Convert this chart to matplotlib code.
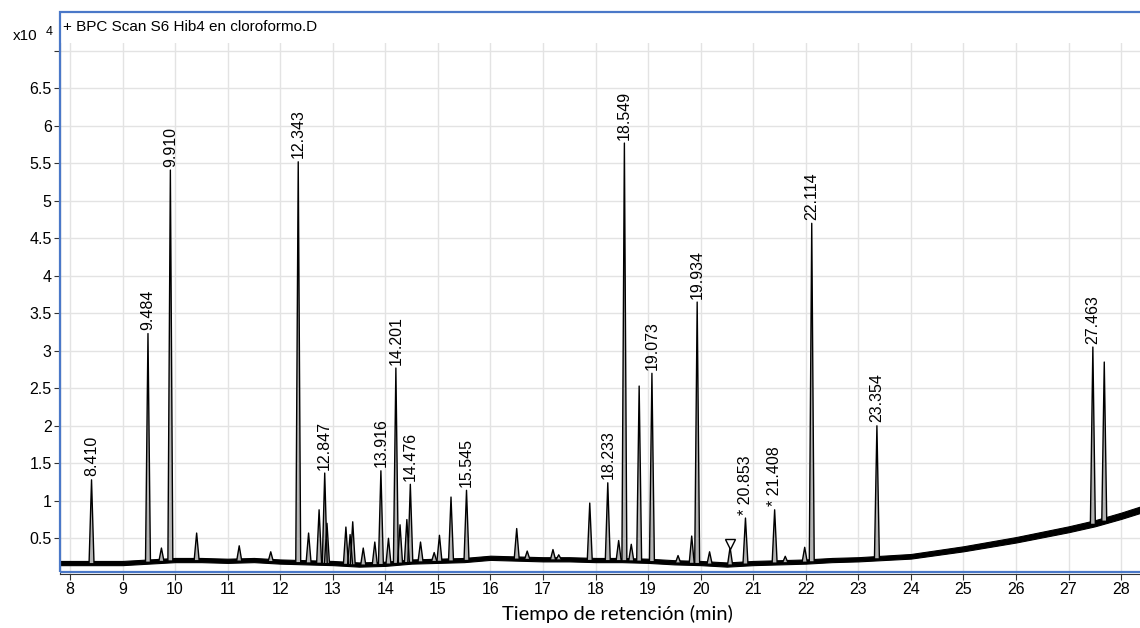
import numpy as np
import matplotlib
matplotlib.use("Agg")
import matplotlib.pyplot as plt
from matplotlib.patches import Rectangle

# ------------------------------------------------------------------
# data (x10^4 counts vs retention time, min)
# ------------------------------------------------------------------
peak_time = [8.410, 9.484, 9.74, 9.910, 10.41, 11.22, 11.82, 12.343, 12.54, 12.74,
             12.847, 12.89, 13.25, 13.33, 13.38, 13.58, 13.80, 13.916, 14.06, 14.201,
             14.28, 14.41, 14.476, 14.67, 14.93, 15.03, 15.25, 15.545, 16.50, 16.70,
             17.19, 17.30, 17.89, 18.233, 18.44, 18.549, 18.68, 18.83, 19.073, 19.57,
             19.83, 19.934, 20.17, 20.56, 20.853, 21.408, 21.61, 21.98, 22.114, 23.354,
             27.463, 27.68]
peak_height = [1.28, 3.23, 0.37, 5.41, 0.57, 0.40, 0.32, 5.52, 0.57, 0.88,
               1.37, 0.70, 0.65, 0.55, 0.72, 0.37, 0.45, 1.40, 0.50, 2.77,
               0.68, 0.75, 1.22, 0.45, 0.31, 0.54, 1.05, 1.14, 0.63, 0.33,
               0.35, 0.28, 0.97, 1.24, 0.47, 5.77, 0.42, 2.53, 2.70, 0.27,
               0.53, 3.65, 0.32, 0.38, 0.77, 0.88, 0.26, 0.38, 4.70, 2.00,
               3.05, 2.85]
peak_label = ["8.410", "9.484", "", "9.910", "", "", "", "12.343", "", "",
              "12.847", "", "", "", "", "", "", "13.916", "", "14.201",
              "", "", "14.476", "", "", "", "", "15.545", "", "",
              "", "", "", "18.233", "", "18.549", "", "", "19.073", "",
              "", "19.934", "", "", "* 20.853", "* 21.408", "", "", "22.114", "23.354",
              "27.463", ""]

base_time = [7.81, 8.5, 9.0, 9.5, 10.0, 10.5, 11.0, 11.5, 12.0, 12.5, 13.0, 13.5,
             14.0, 14.5, 15.0, 15.5, 16.0, 16.5, 17.0, 17.5, 18.0, 18.5, 19.0, 19.5,
             20.0, 20.5, 21.0, 21.5, 22.0, 22.5, 23.0, 23.5, 24.0, 24.5, 25.0, 25.5,
             26.0, 26.5, 27.0, 27.5, 28.0, 28.36]
base_level = [0.17, 0.17, 0.17, 0.19, 0.21, 0.21, 0.20, 0.21, 0.19, 0.18, 0.17, 0.15,
              0.16, 0.19, 0.20, 0.21, 0.24, 0.23, 0.22, 0.22, 0.21, 0.21, 0.20, 0.18,
              0.17, 0.15, 0.17, 0.18, 0.19, 0.21, 0.22, 0.24, 0.26, 0.31, 0.36, 0.42,
              0.48, 0.55, 0.62, 0.70, 0.80, 0.88]

marker_time = 20.56

yticks = [0.5, 1, 1.5, 2, 2.5, 3, 3.5, 4, 4.5, 5, 5.5, 6, 6.5, 7]
ytick_labels = ["0.5", "1", "1.5", "2", "2.5", "3", "3.5", "4", "4.5", "5", "5.5", "6", "6.5", ""]
xticks = list(range(8, 29))

# ------------------------------------------------------------------
plt.rcParams['font.family'] = ['Liberation Sans', 'DejaVu Sans']

W, H = 1140, 628
fig = plt.figure(figsize=(W / 100, H / 100), dpi=100)
ax = fig.add_axes([60 / W, 1 - 574 / H, 1 - 60 / W, (574 - 43) / H])

ax.set_xlim(7.81, 28.36)
ax.set_ylim(0.024, 7.104)

bt = np.array(base_time)
bl = np.array(base_level)
# noise band of the baseline (gets wider at the end of the run)
half = np.where(bt < 23, 0.028, 0.028 + 0.014 * (bt - 23) / 5)
ax.fill_between(bt, bl - half, bl + half, color="black", lw=0.8, zorder=2)

w = 0.047
for t, h in zip(peak_time, peak_height):
    b = np.interp(t, bt, bl)
    xs = [t - w, t, t + w]
    ys = [b, h, b]
    ax.fill(xs, ys, color="#b4b4b4", zorder=3, lw=0)
    ax.plot(xs, ys, color="black", lw=1.0, zorder=4)

for t, h, s in zip(peak_time, peak_height, peak_label):
    if s:
        ax.annotate(s, (t, h), xytext=(0, 2.5), textcoords="offset points",
                    rotation=90, ha="center", va="bottom", fontsize=11.5, zorder=5)

mb = np.interp(marker_time, peak_time, peak_height)
ax.plot([marker_time], [mb + 0.05], marker="v", ms=7, mfc="white", mec="black",
        mew=1.0, ls="none", zorder=6)

ax.set_xticks(xticks)
ax.set_yticks(yticks)
ax.set_yticklabels(ytick_labels)
ax.tick_params(labelsize=11.5, length=4, width=0.8, color="#333333", pad=2)
ax.grid(True, color="#e3e3e3", lw=1.0, zorder=0)
ax.set_axisbelow(True)
for sp in ["top", "right"]:
    ax.spines[sp].set_visible(False)
ax.spines["left"].set_color("#333333")
ax.spines["bottom"].set_color("#333333")

fig.text(617 / W, 1 - 614 / H, "Tiempo de retención (min)", fontsize=14.5,
         family=["Lato", "DejaVu Sans"], ha="center", va="center")

# blue frame and header text
fig.add_artist(Rectangle((59.5 / W, 1 - 572 / H), 1.1, (572 - 12) / H, fill=False,
                         edgecolor="#4a78c8", lw=1.6, transform=fig.transFigure, zorder=10))
fig.text(63 / W, 1 - 27 / H, "+ BPC Scan S6 Hib4 en cloroformo.D", fontsize=11,
         ha="left", va="center")
fig.text(13 / W, 1 - 36 / H, "x10", fontsize=11, ha="left", va="center")
fig.text(46 / W, 1 - 32 / H, "4", fontsize=9, ha="left", va="center")

fig.savefig("out.png", dpi=100)
